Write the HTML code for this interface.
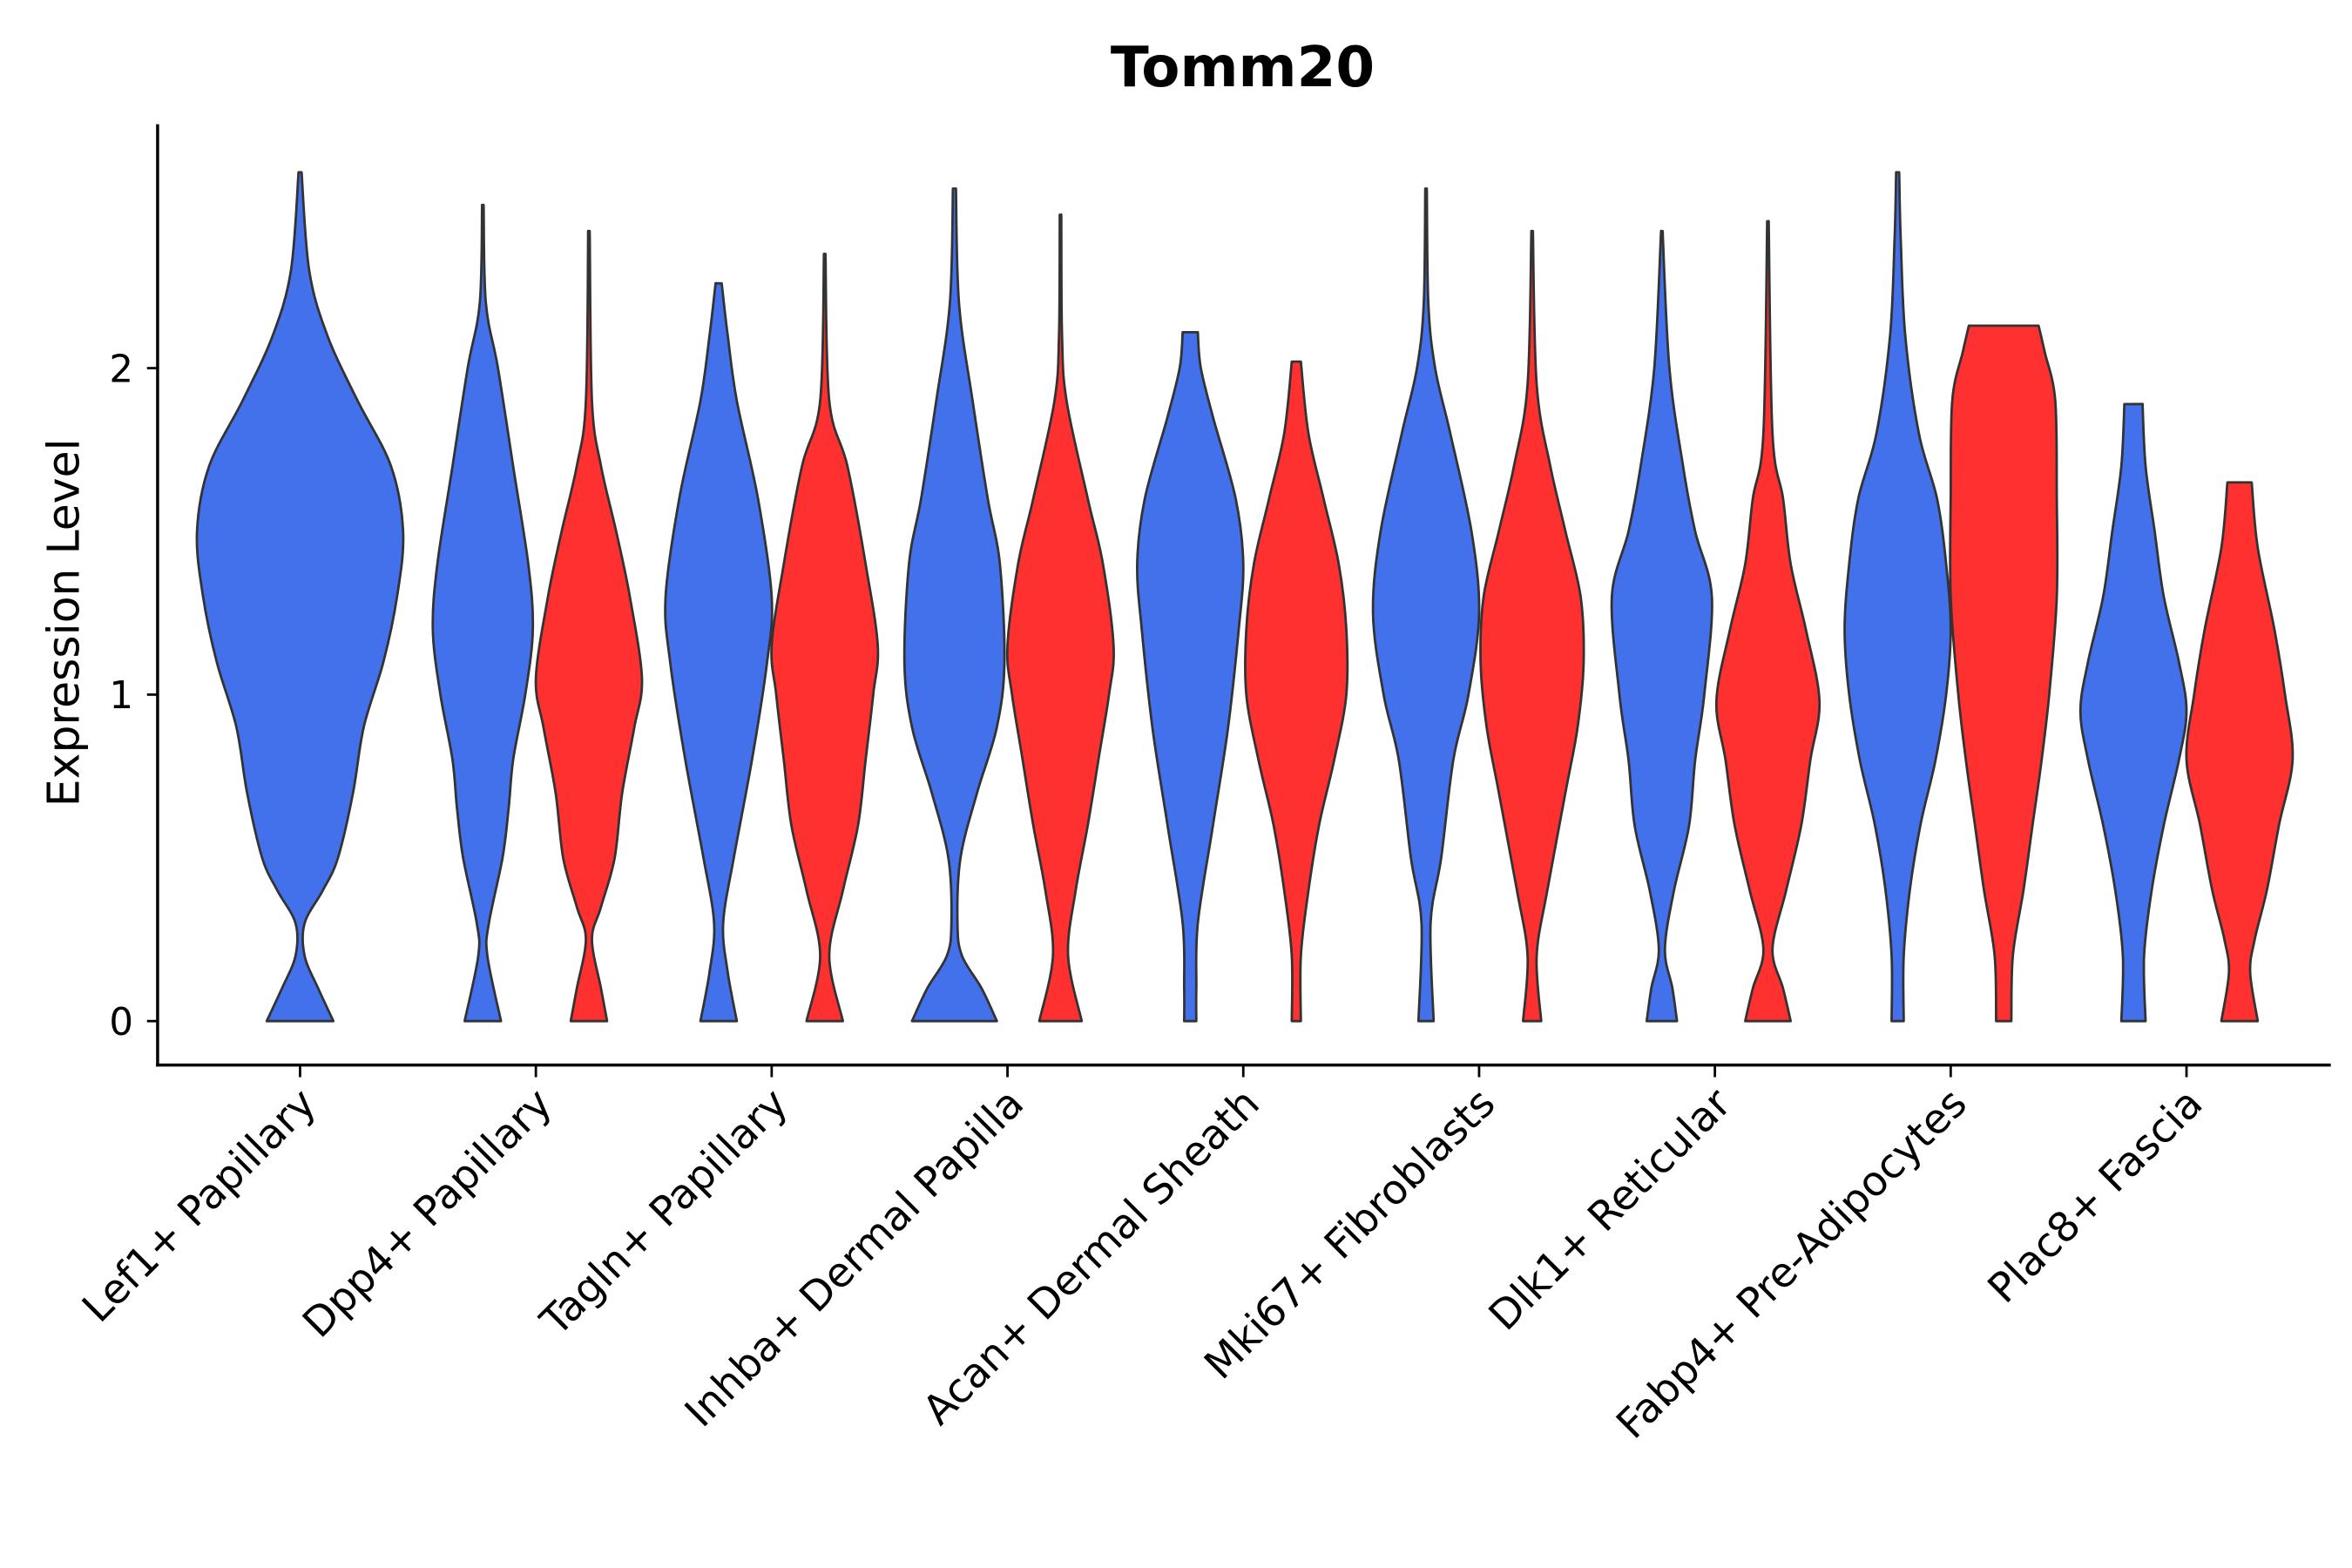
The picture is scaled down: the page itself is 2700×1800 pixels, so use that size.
<!DOCTYPE html>
<html><head><meta charset="utf-8"><style>
html,body{margin:0;padding:0;background:#fff;}
svg{display:block;}
text{font-family:"DejaVu Sans","Liberation Sans",sans-serif;fill:#000;}
</style></head><body>
<svg id="chart" width="2700" height="1800" viewBox="0 0 1552 1035" preserveAspectRatio="none" xmlns="http://www.w3.org/2000/svg">
<rect width="1552" height="1035" fill="#fff"/>
<text x="820" y="57" font-size="37" font-weight="bold" text-anchor="middle">Tomm20</text>
<text transform="translate(52,411) rotate(-90)" font-size="29" text-anchor="middle">Expression Level</text>
<g id="violins"></g>
<g id="axes"></g>
</svg>
<script>
const categories = ["Lef1+ Papillary","Dpp4+ Papillary","Tagln+ Papillary","Inhba+ Dermal Papilla","Acan+ Dermal Sheath","Mki67+ Fibroblasts","Dlk1+ Reticular","Fabp4+ Pre-Adipocytes","Plac8+ Fascia"];
const yTicks = [0,1,2];
const vLef1 = [[0,22],[0.1,12],[0.2,3],[0.3,3],[0.4,15],[0.5,25],[0.7,35],[0.9,42],[1.1,55],[1.3,64],[1.5,68],[1.7,60],[1.9,38],[2.1,18],[2.3,6],[2.6,1]];
const vDpp4B = [[0,12],[0.2,3],[0.3,4],[0.5,13],[0.65,17],[0.8,20],[1.0,28],[1.2,33],[1.4,30],[1.7,20],[2.0,10],[2.2,2],[2.5,0.5]];
const vDpp4R = [[0,12],[0.1,8],[0.25,2],[0.35,8],[0.5,17],[0.7,22],[0.9,30],[1.05,35],[1.3,27],[1.5,18],[1.7,8],[1.9,2],[2.42,0.5]];
const vTaglnB = [[0,12],[0.15,6],[0.3,3],[0.5,10],[0.8,22],[1.1,32],[1.3,35],[1.6,26],[1.9,12],[2.1,6],[2.26,2]];
const vTaglnR = [[0,12],[0.2,3],[0.4,12],[0.6,22],[0.8,27],[1.0,32],[1.15,35],[1.4,27],[1.7,15],[1.9,3],[2.35,0.5]];
const vInhbaB = [[0,28],[0.1,18],[0.2,5],[0.3,2],[0.5,4],[0.7,15],[0.9,28],[1.1,33],[1.4,30],[1.6,22],[1.9,12],[2.2,3],[2.55,1]];
const vInhbaR = [[0,14],[0.2,5],[0.4,10],[0.6,18],[0.8,25],[1.0,32],[1.15,35],[1.4,28],[1.6,18],[1.9,4],[2.1,1],[2.47,0.5]];
const vAcanB = [[0,4],[0.1,4],[0.3,5],[0.6,15],[0.9,25],[1.2,32],[1.4,35],[1.6,30],[1.85,15],[2.0,7],[2.11,5]];
const vAcanR = [[0,3],[0.2,3],[0.4,8],[0.6,15],[0.8,25],[1.0,33],[1.2,33],[1.4,28],[1.6,18],[1.8,8],[2.02,3]];
const vMkiB = [[0,5],[0.3,3],[0.5,10],[0.8,18],[1.0,28],[1.25,35],[1.5,30],[1.8,16],[2.0,6],[2.2,1.5],[2.55,0.5]];
const vMkiR = [[0,6],[0.2,3],[0.4,10],[0.7,22],[0.9,30],[1.1,34],[1.3,32],[1.5,22],[1.7,12],[1.95,3],[2.42,0.5]];
const vDlkB = [[0,10],[0.1,7],[0.22,2],[0.4,8],[0.6,18],[0.8,22],[1.0,28],[1.3,33],[1.5,22],[1.7,14],[2.0,5],[2.42,0.5]];
const vDlkR = [[0,15],[0.1,10],[0.22,3],[0.4,12],[0.6,22],[0.8,28],[0.98,34],[1.2,25],[1.4,15],[1.6,10],[1.8,3],[2.45,0.5]];
const vFabpB = [[0,4],[0.2,4],[0.4,8],[0.6,15],[0.8,25],[1.0,32],[1.2,35],[1.4,32],[1.6,26],[1.8,14],[2.1,5],[2.4,2],[2.6,1]];
const vFabpR = [[0,5],[0.2,6],[0.4,13],[0.6,19],[0.8,25],[1.0,30],[1.3,35],[1.6,35],[1.9,34],[2.05,27],[2.13,23]];
const vPlacB = [[0,8],[0.2,7],[0.4,12],[0.6,20],[0.8,30],[0.95,35],[1.1,30],[1.3,20],[1.5,14],[1.7,8],[1.89,6]];
const vPlacR = [[0,12],[0.15,7],[0.25,10],[0.4,18],[0.6,26],[0.8,35],[1.0,30],[1.2,23],[1.45,12],[1.65,8]];
const violinCat = [0,1,1,2,2,3,3,4,4,5,5,6,6,7,7,8,8];
const violinGroup = [-1,0,1,0,1,0,1,0,1,0,1,0,1,0,1,0,1];
const violinData = [vLef1,vDpp4B,vDpp4R,vTaglnB,vTaglnR,vInhbaB,vInhbaR,vAcanB,vAcanR,vMkiB,vMkiR,vDlkB,vDlkR,vFabpB,vFabpR,vPlacB,vPlacR];

const NS="http://www.w3.org/2000/svg";
const X0=104, X1=1538, Ytop=82, Ybot=703;
const xScale = i => 198 + i*155.6;
const yScale = v => 674 - v*215.5;
const groupOffset = g => g<0?0:(g===0?-35:35);
const colors = {"-1":"#4370EB","0":"#4370EB","1":"#FF3030"};

function smooth(pts){
  let d="M"+pts[0][0]+","+pts[0][1];
  for(let i=0;i<pts.length-1;i++){
    const p0=pts[Math.max(0,i-1)],p1=pts[i],p2=pts[i+1],p3=pts[Math.min(pts.length-1,i+2)];
    const c1=[p1[0]+(p2[0]-p0[0])/6,p1[1]+(p2[1]-p0[1])/6];
    const c2=[p2[0]-(p3[0]-p1[0])/6,p2[1]-(p3[1]-p1[1])/6];
    d+=" C"+c1[0].toFixed(1)+","+c1[1].toFixed(1)+" "+c2[0].toFixed(1)+","+c2[1].toFixed(1)+" "+p2[0].toFixed(1)+","+p2[1].toFixed(1);
  }
  return d;
}
const vg=document.getElementById("violins");
violinData.forEach((prof,k)=>{
  const cx=xScale(violinCat[k])+groupOffset(violinGroup[k]);
  const right=prof.map(p=>[cx+p[1],yScale(p[0])]);
  const left=prof.slice().reverse().map(p=>[cx-p[1],yScale(p[0])]);
  const top=prof[prof.length-1];
  let d=smooth(right)+" L"+(cx-top[1])+","+yScale(top[0])+" "+smooth(left).replace(/^M/," L")+" Z";
  const path=document.createElementNS(NS,"path");
  path.setAttribute("d",d);
  path.setAttribute("fill",colors[violinGroup[k]]);
  path.setAttribute("stroke","#333");
  path.setAttribute("stroke-width","1.6");
  path.setAttribute("stroke-linejoin","round");
  
  
  vg.appendChild(path);
});
const ag=document.getElementById("axes");
function line(x1,y1,x2,y2,w){const l=document.createElementNS(NS,"line");l.setAttribute("x1",x1);l.setAttribute("y1",y1);l.setAttribute("x2",x2);l.setAttribute("y2",y2);l.setAttribute("stroke","#000");l.setAttribute("stroke-width",w);return l;}
const ya=line(X0,Ytop,X0,Ybot+1,2);


ag.appendChild(ya);
const xa=line(X0-1,Ybot,X1,Ybot,2);


ag.appendChild(xa);
yTicks.forEach(v=>{
  const t=line(X0-7,yScale(v),X0,yScale(v),1.6);
  
  
  ag.appendChild(t);
  const tx=document.createElementNS(NS,"text");
  tx.setAttribute("x",X0-16);tx.setAttribute("y",yScale(v)+9);
  tx.setAttribute("font-size","25");tx.setAttribute("text-anchor","end");
  tx.textContent=v;
  
  
  ag.appendChild(tx);
});
categories.forEach((c,i)=>{
  const x=xScale(i);
  const t=line(x,Ybot,x,Ybot+8,1.6);
  
  
  ag.appendChild(t);
  const tx=document.createElementNS(NS,"text");
  tx.setAttribute("transform","translate("+(x+12)+","+(Ybot+27)+") rotate(-45)");
  tx.setAttribute("font-size","27");tx.setAttribute("text-anchor","end");
  tx.textContent=c;
  
  
  ag.appendChild(tx);
});
</script>
</body></html>
